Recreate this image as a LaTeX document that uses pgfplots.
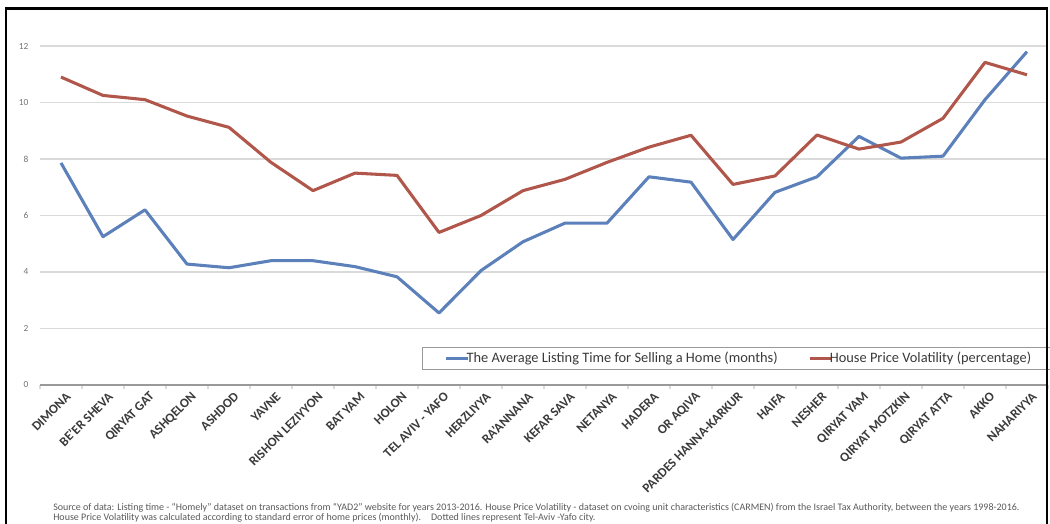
\documentclass[border=0pt]{standalone}
\usepackage{pgfplots}
\pgfplotsset{compat=1.18}
\usepackage{fontspec}
\setmainfont{Carlito}
\definecolor{blueS}{HTML}{5B80BA}
\definecolor{redS}{HTML}{B0564A}
\definecolor{gridc}{HTML}{DADADA}
\definecolor{labc}{HTML}{3A3A3A}
\begin{document}
\begin{tikzpicture}
\useasboundingbox (0,0) rectangle (787.5pt,393pt);
\begin{axis}[
  at={(30pt,104.25pt)}, anchor=south west,
  scale only axis, width=756pt, height=254.25pt,
  xmin=-0.5, xmax=23.5, ymin=0, ymax=12,
  ytick={0,2,...,12},
  ymajorgrids, grid style={gridc, line width=0.9pt},
  axis x line*=bottom, axis y line*=left,
  y axis line style={draw=none},
  major y tick style={draw=none},
  x axis line style={draw=gray!80, line width=0.8pt},
  xtick={0,...,23},
  major x tick style={draw=none},
  minor xtick={-0.5,0.5,...,23.5},
  minor x tick style={draw=gridc, line width=0.8pt},
  tick align=outside, minor tick length=3pt,
  xticklabels={DIMONA,BE'ER SHEVA,QIRYAT GAT,ASHQELON,ASHDOD,YAVNE,RISHON LEZIYYON,BAT YAM,HOLON,TEL AVIV - YAFO,HERZLIYYA,RA'ANNANA,KEFAR SAVA,NETANYA,HADERA,OR AQIVA,PARDES HANNA-KARKUR,HAIFA,NESHER,QIRYAT YAM,QIRYAT MOTZKIN,QIRYAT ATTA,AKKO,NAHARIYYA},
  xticklabel style={rotate=45, anchor=east, font=\bfseries\fontsize{9.8}{10}\selectfont, text=labc, yshift=-6pt, xshift=2pt, inner sep=0pt},
  yticklabel style={font=\fontsize{7}{8}\selectfont, text=gray!90!black},
  y tick label style={xshift=-1pt},
  /pgf/number format/assume math mode=true,
  legend columns=2,
  legend style={at={(rel axis cs:0.379,0.1121)}, anchor=north west, draw=gray!80, line width=0.6pt,
    font=\fontsize{10.8}{12}\selectfont, text=labc, inner xsep=0pt, inner ysep=1.5pt,
    /tikz/every even column/.append style={column sep=4pt}},
  legend cell align=left,
  legend image code/.code={\path[draw=none] (0pt,0pt) -- (1pt,0pt); \draw[#1, line width=2.2pt] (18pt,0pt) -- (34pt,0pt);},
  every axis plot/.append style={line width=2.3pt, line join=round},
]
\addplot[blueS] coordinates {
(0,7.86) (1,5.25) (2,6.2) (3,4.28) (4,4.15) (5,4.4) (6,4.4) (7,4.19) (8,3.83) (9,2.55)
(10,4.05) (11,5.07) (12,5.73) (13,5.73) (14,7.37) (15,7.18) (16,5.15) (17,6.82) (18,7.37)
(19,8.8) (20,8.03) (21,8.1) (22,10.1) (23,11.8)};
\addlegendentry{\hspace{-4pt}The Average Listing Time for Selling a Home (months)}
\addplot[redS] coordinates {
(0,10.9) (1,10.25) (2,10.1) (3,9.52) (4,9.12) (5,7.88) (6,6.88) (7,7.5) (8,7.42) (9,5.4)
(10,6.0) (11,6.88) (12,7.28) (13,7.88) (14,8.42) (15,8.84) (16,7.1) (17,7.4) (18,8.85)
(19,8.35) (20,8.6) (21,9.44) (22,11.42) (23,10.98)};
\addlegendentry{\hspace{-4pt}House Price Volatility (percentage)\rule{13pt}{0pt}}
\end{axis}
\draw[black, line width=1.6pt] (4.6pt,0) -- (4.6pt,386.6pt) -- (785.3pt,386.6pt) -- (785.3pt,0);
\node[anchor=west, font=\fontsize{7.5}{8}\selectfont, text=gray!70!black, inner sep=0pt] at (39.75pt,12pt)
 {Source of data: Listing time - ``Homely'' dataset on transactions from ``YAD2'' website for years 2013-2016. House Price Volatility - dataset on cvoing unit characteristics (CARMEN) from the Israel Tax Authority, between the years 1998-2016.};
\node[anchor=west, font=\fontsize{7.5}{8}\selectfont, text=gray!70!black, inner sep=0pt] at (39.75pt,4.5pt)
 {House Price Volatility was calculated according to standard error of home prices (monthly).\quad Dotted lines represent Tel-Aviv -Yafo city.};
\end{tikzpicture}
\end{document}
